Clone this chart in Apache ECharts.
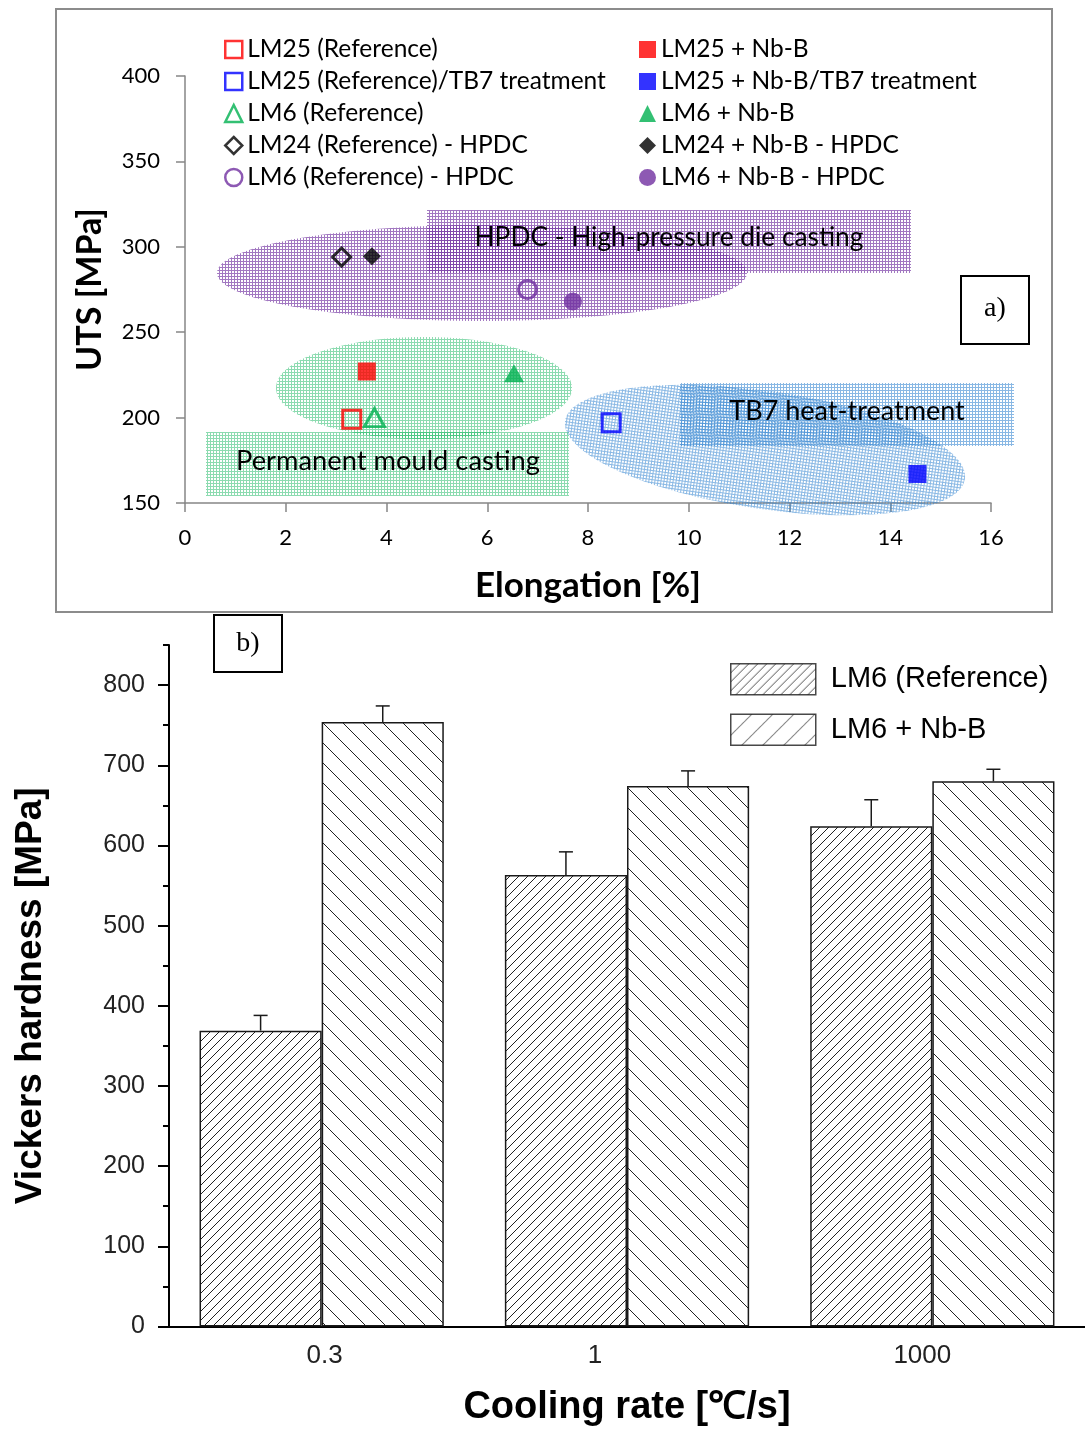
<!DOCTYPE html>
<html><head><meta charset="utf-8">
<script src="https://cdn.jsdelivr.net/npm/echarts@6/dist/echarts.min.js"></script>
<style>html,body{margin:0;padding:0;background:#fff}#c{width:1085px;height:1430px}</style>
</head><body><div id="c"></div><script>
// ---------- Data: panel a) ----------
const seriesNames = [
  'LM25 (Reference)', 'LM25 (Reference)/TB7 treatment', 'LM6 (Reference)',
  'LM24 (Reference) - HPDC', 'LM6 (Reference) - HPDC',
  'LM25 + Nb-B', 'LM25 + Nb-B/TB7 treatment', 'LM6 + Nb-B',
  'LM24 + Nb-B - HPDC', 'LM6 + Nb-B - HPDC'
];
const elongation = [3.31, 8.46, 3.76, 3.11, 6.80, 3.61, 14.54, 6.53, 3.71, 7.70];
const uts        = [199, 197, 200, 294, 275, 227, 167, 226, 294.5, 268];
const elongTicks = [0, 2, 4, 6, 8, 10, 12, 14, 16];
const utsTicks   = [150, 200, 250, 300, 350, 400];
// styles for the markers (not data)
const mColors  = ['#ff0000', '#0000ff', '#00b050', '#000000', '#7030a0', '#ff0000', '#0000ff', '#00b050', '#000000', '#7030a0'];
const mSymbols = ['rect', 'rect', 'triangle', 'diamond', 'circle', 'rect', 'rect', 'triangle', 'diamond', 'circle'];
const mFilled  = [false, false, false, false, false, true, true, true, true, true];

// ---------- Data: panel b) ----------
const coolingRates = ['0.3', '1', '1000'];
const refHardness  = [369, 563, 624];
const refErr       = [19, 29, 33];
const nbHardness   = [754, 674, 680];
const nbErr        = [20, 19, 15];
const hardTicks    = [0, 100, 200, 300, 400, 500, 600, 700, 800];
const hardMinor    = [50, 150, 250, 350, 450, 550, 650, 750, 850];

// ---------- patterns ----------
function mesh(r, g, b, a) {
  const c = document.createElement('canvas'); c.width = 3; c.height = 3;
  const x = c.getContext('2d');
  x.fillStyle = 'rgba(' + r + ',' + g + ',' + b + ',' + a + ')';
  x.fillRect(0, 0, 3, 1); x.fillRect(0, 1, 1, 2);
  return { image: c, repeat: 'repeat' };
}
function hatch(p, dir) {
  const c = document.createElement('canvas'); c.width = p; c.height = p;
  const g = c.getContext('2d');
  g.fillStyle = '#fff'; g.fillRect(0, 0, p, p);
  g.strokeStyle = '#222'; g.lineWidth = 1;
  g.beginPath();
  if (dir === '/') {
    g.moveTo(-1, p + 1); g.lineTo(p + 1, -1);
    g.moveTo(-1, 1); g.lineTo(1, -1);
    g.moveTo(p - 1, p + 1); g.lineTo(p + 1, p - 1);
  } else {
    g.moveTo(-1, -1); g.lineTo(p + 1, p + 1);
    g.moveTo(p - 1, -1); g.lineTo(p + 1, 1);
    g.moveTo(-1, p - 1); g.lineTo(1, p + 1);
  }
  g.stroke();
  return { image: c, repeat: 'repeat' };
}
const purpleMesh = mesh(112, 48, 160, 0.65);
const greenMesh  = mesh(0, 176, 80, 0.45);
const blueMesh   = mesh(40, 125, 205, 0.55);
const denseFwd   = hatch(9, '/');
const sparseBack = hatch(20, '\\');
const sparseFwd  = hatch(21, '/');

const fontA = 'Lato';
const fontB = 'Liberation Sans';

const scatterSeries = seriesNames.map((n, i) => ({
  name: n, type: 'scatter', xAxisIndex: 0, yAxisIndex: 0,
  symbol: mSymbols[i],
  symbolSize: mSymbols[i] === 'triangle' ? [20, 18] : 18,
  data: [[elongation[i], uts[i]]],
  z: 5,
  itemStyle: mFilled[i]
    ? { color: mColors[i], borderColor: mColors[i], borderWidth: 0 }
    : { color: 'rgba(255,255,255,0)', borderColor: mColors[i], borderWidth: 3 }
}));
const legendItems = seriesNames.map((n, i) => mFilled[i]
  ? { name: n, itemStyle: { color: mColors[i], borderWidth: 0 } }
  : { name: n, itemStyle: { color: 'rgba(255,255,255,0)', borderColor: mColors[i], borderWidth: 2.5 } });

function errRender(params, api) {
  const idx = api.value(0), val = api.value(1), err = api.value(2), side = api.value(3);
  const base = api.coord([idx, val]);
  const top = api.coord([idx, val + err]);
  const w = api.size([1, 0])[0];
  const x = base[0] + side * w * 0.2;
  const st = { stroke: '#1a1a1a', lineWidth: 1.5 };
  return { type: 'group', children: [
    { type: 'line', shape: { x1: x, y1: base[1], x2: x, y2: top[1] }, style: st },
    { type: 'line', shape: { x1: x - 7, y1: top[1], x2: x + 7, y2: top[1] }, style: st }
  ]};
}
const errData = refHardness.map((v, i) => [i, v, refErr[i], -1])
  .concat(nbHardness.map((v, i) => [i, v, nbErr[i], 1]));

const labelShift = { '0.3': 'a', '1': 'b', '1000': 'c' };
const legTextA = { fontFamily: fontA, fontSize: 24.5, lineHeight: 24, color: '#000' };

const chart = echarts.init(document.getElementById('c'), null, { renderer: 'canvas' });
chart.setOption({
  animation: false,
  backgroundColor: '#fff',
  grid: [
    { left: 185, top: 76, width: 806, height: 427 },
    { left: 169, top: 645, width: 922, height: 681.5 }
  ],
  legend: [
    { left: 224, top: 37, padding: 0, orient: 'vertical', itemWidth: 17, itemHeight: 17, itemGap: 7,
      data: legendItems.slice(0, 5), textStyle: legTextA },
    { left: 639, top: 37, padding: 0, orient: 'vertical', itemWidth: 17, itemHeight: 17, itemGap: 7,
      data: legendItems.slice(5), textStyle: legTextA },
    { left: 730, top: 663, padding: 0, orient: 'vertical', itemWidth: 85, itemHeight: 31, itemGap: 18, icon: 'rect',
      data: [
        { name: 'LM6 (Reference)', icon: 'rect', itemStyle: { color: denseFwd, borderColor: '#1a1a1a', borderWidth: 1.5 } },
        { name: 'LM6 + Nb-B', icon: 'rect', itemStyle: { color: sparseFwd, borderColor: '#1a1a1a', borderWidth: 1.5 } }
      ],
      textStyle: { fontFamily: fontB, fontSize: 29, color: '#000', padding: [0, 0, 0, 10] } }
  ],
  xAxis: [
    { type: 'value', gridIndex: 0, min: 0, max: 16, interval: 2,
      name: 'Elongation [%]', nameLocation: 'middle', nameGap: 65,
      nameTextStyle: { fontFamily: fontA, fontSize: 35, fontWeight: 'bold', color: '#000' },
      axisLine: { show: true, lineStyle: { color: '#868686', width: 1.5 } },
      axisTick: { show: true, length: 9, lineStyle: { color: '#868686', width: 1.5 } },
      axisLabel: { margin: 24, fontFamily: fontA, fontSize: 22, color: '#000',
        customValues: elongTicks },
      splitLine: { show: false } },
    { type: 'category', gridIndex: 1, data: coolingRates,
      name: 'Cooling rate [℃/s]', nameLocation: 'middle', nameGap: 62,
      nameTextStyle: { fontFamily: fontB, fontSize: 38, fontWeight: 'bold', color: '#000' },
      axisLine: { lineStyle: { color: '#000', width: 2 } },
      axisTick: { length: 8, lineStyle: { color: '#000', width: 2 } },
      axisLabel: { margin: 16, fontFamily: fontB, fontSize: 26, color: '#222',
        formatter: v => '{' + labelShift[v] + '|' + v + '}',
        rich: {
          a: { fontFamily: fontB, fontSize: 26, color: '#222', padding: [0, 0, 0, 6] },
          b: { fontFamily: fontB, fontSize: 26, color: '#222', padding: [0, 64, 0, 0] },
          c: { fontFamily: fontB, fontSize: 26, color: '#222', padding: [0, 20, 0, 0] }
        } } }
  ],
  yAxis: [
    { type: 'value', gridIndex: 0, min: 150, max: 400, interval: 50,
      name: 'UTS [MPa]', nameLocation: 'middle', nameGap: 78,
      nameTextStyle: { fontFamily: fontA, fontSize: 34, fontWeight: 'bold', color: '#000' },
      axisLine: { show: true, lineStyle: { color: '#868686', width: 1.5 } },
      axisTick: { show: true, length: 9, lineStyle: { color: '#868686', width: 1.5 } },
      axisLabel: { margin: 25, fontFamily: fontA, fontSize: 22, color: '#000', customValues: utsTicks },
      splitLine: { show: false } },
    { type: 'value', gridIndex: 1, min: 0, max: 850, interval: 100,
      name: 'Vickers hardness [MPa]', nameLocation: 'middle', nameGap: 120,
      nameTextStyle: { fontFamily: fontB, fontSize: 37, fontWeight: 'bold', color: '#000', padding: [0, 20, 0, 0] },
      axisLine: { show: true, lineStyle: { color: '#000', width: 2 } },
      axisTick: { show: true, length: 11, lineStyle: { color: '#000', width: 2 }, customValues: hardTicks },
      axisLabel: { margin: 24, fontFamily: fontB, fontSize: 25, color: '#222', customValues: hardTicks },
      splitLine: { show: false } },
    { type: 'value', gridIndex: 1, min: 0, max: 850, interval: 50, position: 'left', offset: 0,
      axisLine: { show: false },
      axisTick: { show: true, length: 6, lineStyle: { color: '#000', width: 2 }, customValues: hardMinor },
      axisLabel: { show: false },
      splitLine: { show: false } }
  ],
  series: scatterSeries.concat([
    { name: 'LM6 (Reference)', type: 'bar', xAxisIndex: 1, yAxisIndex: 1,
      data: refHardness, barWidth: '40%', barGap: '0%',
      itemStyle: { color: denseFwd, borderColor: '#1a1a1a', borderWidth: 1.5 } },
    { name: 'LM6 + Nb-B', type: 'bar', xAxisIndex: 1, yAxisIndex: 1,
      data: nbHardness, barWidth: '40%', barGap: '0%',
      itemStyle: { color: sparseBack, borderColor: '#1a1a1a', borderWidth: 1.5 } },
    { name: 'err', type: 'custom', xAxisIndex: 1, yAxisIndex: 1,
      renderItem: errRender, data: errData, encode: { x: 0, y: 1 }, z: 6 }
  ]),
  graphic: [
    { type: 'rect', shape: { x: 56, y: 9, width: 996, height: 603 }, style: { fill: 'none', stroke: '#8c8c8c', lineWidth: 2 }, z: 1 },
    // HPDC region
    { type: 'ellipse', shape: { cx: 482, cy: 273, rx: 265, ry: 48 }, style: { fill: purpleMesh }, z: 1 },
    { type: 'rect', shape: { x: 427, y: 210, width: 484, height: 63 }, style: { fill: purpleMesh }, z: 1 },
    { type: 'text', x: 669, y: 238, style: { text: 'HPDC - High-pressure die casting', fontFamily: fontA, fontSize: 26.3, fill: '#000', align: 'center', verticalAlign: 'middle' }, z: 3 },
    // Permanent mould region
    { type: 'ellipse', shape: { cx: 424, cy: 388, rx: 148, ry: 51 }, style: { fill: greenMesh }, z: 1 },
    { type: 'rect', shape: { x: 206, y: 432, width: 363, height: 64 }, style: { fill: greenMesh }, z: 1 },
    { type: 'text', x: 388, y: 461, style: { text: 'Permanent mould casting', fontFamily: fontA, fontSize: 27.3, fill: '#000', align: 'center', verticalAlign: 'middle' }, z: 3 },
    // TB7 region
    { type: 'ellipse', x: 765, y: 450, rotation: -0.144, shape: { cx: 0, cy: 0, rx: 202, ry: 59 }, style: { fill: blueMesh }, z: 1 },
    { type: 'rect', shape: { x: 680, y: 383, width: 334, height: 63 }, style: { fill: blueMesh }, z: 1 },
    { type: 'text', x: 847, y: 411, style: { text: 'TB7 heat-treatment', fontFamily: fontA, fontSize: 27, fill: '#000', align: 'center', verticalAlign: 'middle' }, z: 3 },
    // panel labels
    { type: 'rect', shape: { x: 961, y: 276, width: 68, height: 68 }, style: { fill: '#fff', stroke: '#000', lineWidth: 2 }, z: 3 },
    { type: 'text', x: 995, y: 309, style: { text: 'a)', fontFamily: 'Liberation Serif', fontSize: 28, fill: '#000', align: 'center', verticalAlign: 'middle' }, z: 4 },
    { type: 'rect', shape: { x: 214, y: 615, width: 68, height: 57 }, style: { fill: '#fff', stroke: '#000', lineWidth: 2 }, z: 3 },
    { type: 'text', x: 248, y: 644, style: { text: 'b)', fontFamily: 'Liberation Serif', fontSize: 28, fill: '#000', align: 'center', verticalAlign: 'middle' }, z: 4 }
  ]
});
</script></body></html>
